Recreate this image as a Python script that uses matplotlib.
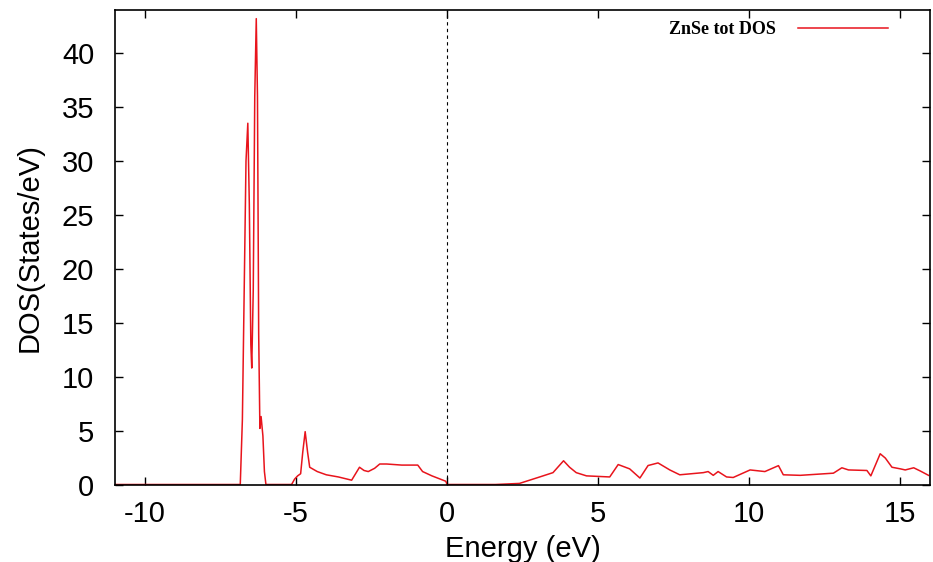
import numpy as np
import matplotlib
matplotlib.use("Agg")
import matplotlib.pyplot as plt

# Total DOS of ZnSe
energy = [-11.0, -6.85, -6.78, -6.72, -6.66, -6.6, -6.55, -6.5, -6.47, -6.42,
          -6.37, -6.32, -6.28, -6.24, -6.2, -6.16, -6.1, -6.05, -6.0,
          -5.15, -5.05, -4.95, -4.85, -4.78, -4.7, -4.62, -4.55, -4.3,
          -4.0, -3.6, -3.16, -2.9, -2.75, -2.61, -2.4, -2.23, -2.0, -1.5,
          -0.97, -0.81, -0.5, -0.04, 0.0,
          1.6, 2.0, 2.4, 3.07, 3.51, 3.86, 4.06, 4.28, 4.62, 5.39, 5.67,
          6.05, 6.39, 6.66, 6.99, 7.38, 7.71, 8.49, 8.65, 8.82, 8.98, 9.26,
          9.48, 10.04, 10.53, 10.98, 11.14, 11.7, 12.8, 13.08, 13.3, 13.91,
          14.04, 14.35, 14.52, 14.74, 15.02, 15.18, 15.46, 15.68, 15.95]
dos = [0.0, 0.0, 6.0, 18.0, 30.0, 33.5, 26.0, 13.0, 10.8, 18.0,
       36.0, 43.2, 36.0, 14.0, 5.2, 6.3, 4.5, 1.2, 0.0,
       0.0, 0.5, 0.8, 1.0, 3.0, 4.9, 3.0, 1.6, 1.2,
       0.9, 0.7, 0.4, 1.6, 1.3, 1.2, 1.5, 1.9, 1.9, 1.8,
       1.8, 1.2, 0.8, 0.3, 0.0,
       0.0, 0.05, 0.1, 0.7, 1.1, 2.2, 1.6, 1.1, 0.8, 0.7, 1.85,
       1.45, 0.6, 1.76, 2.0, 1.35, 0.9, 1.1, 1.2, 0.85, 1.2, 0.7,
       0.65, 1.35, 1.2, 1.75, 0.9, 0.85, 1.05, 1.55, 1.35, 1.3,
       0.8, 2.85, 2.45, 1.6, 1.45, 1.35, 1.55, 1.25, 0.85]

xticks = [-10, -5, 0, 5, 10, 15]
yticks = [0, 5, 10, 15, 20, 25, 30, 35, 40]

plt.rcParams["font.family"] = ["Liberation Sans", "DejaVu Sans"]
plt.rcParams["axes.unicode_minus"] = False

fig = plt.figure(figsize=(9.33, 5.62), dpi=100)
ax = fig.add_axes([115 / 933, 1 - 484.5 / 562, 815 / 933, 474.5 / 562])

ax.plot(energy, dos, color="#e8141c", linewidth=1.1, label="ZnSe tot DOS")
ax.axvline(0, color="black", linestyle=(0, (3, 3)), linewidth=0.8)

ax.set_xlim(-11, 16)
ax.set_ylim(0, 44)
ax.set_xticks(xticks)
ax.set_yticks(yticks)
ax.tick_params(direction="in", length=6, width=1.0, top=True, right=True,
               labelsize=21)
ax.tick_params(axis="y", pad=15)
ax.tick_params(axis="x", pad=11)
for s in ax.spines.values():
    s.set_linewidth(1.2)

ax.set_xlabel("Energy (eV)", fontsize=21, labelpad=5)
ax.set_ylabel("DOS(States/eV)", fontsize=21, labelpad=13)

ax.legend(loc="upper right", bbox_to_anchor=(0.9485, 0.977), frameon=False,
          markerfirst=False, handlelength=5.0, handletextpad=1.2,
          borderpad=0, borderaxespad=0,
          prop={"family": "Liberation Serif", "weight": "bold", "size": 13})

fig.savefig("out.png", dpi=100)
